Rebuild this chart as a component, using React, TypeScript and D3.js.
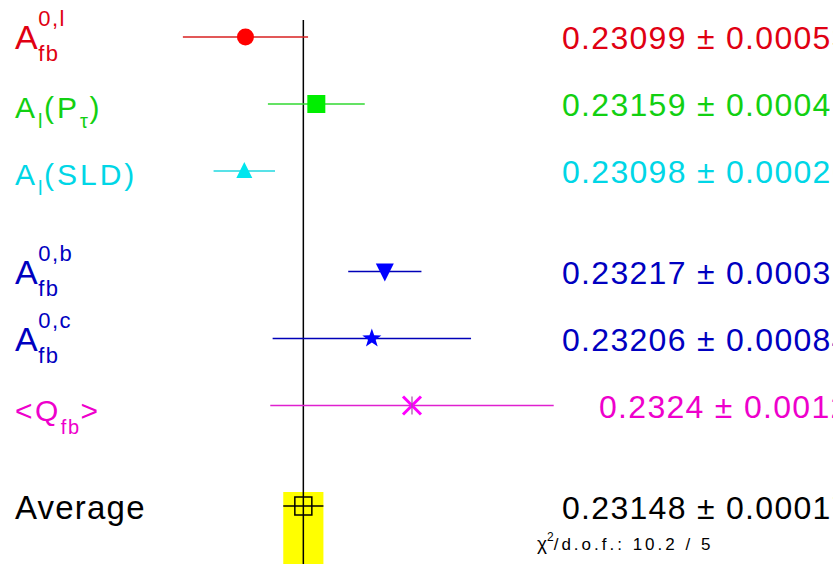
import React from 'react';
import * as d3 from 'd3';

const W = 833;
const H = 564;

type Tok = { t: string; s?: 'sub' | 'sup' };

// ---- data ----
const labels: Tok[][] = [
  [{ t: 'A' }, { t: 'fb', s: 'sub' }, { t: '0,l', s: 'sup' }],
  [{ t: 'A' }, { t: 'l', s: 'sub' }, { t: '(P' }, { t: 'τ', s: 'sub' }, { t: ')' }],
  [{ t: 'A' }, { t: 'l', s: 'sub' }, { t: '(SLD)' }],
  [{ t: 'A' }, { t: 'fb', s: 'sub' }, { t: '0,b', s: 'sup' }],
  [{ t: 'A' }, { t: 'fb', s: 'sub' }, { t: '0,c', s: 'sup' }],
  [{ t: '<Q' }, { t: 'fb', s: 'sub' }, { t: '>' }],
];
const values = [0.23099, 0.23159, 0.23098, 0.23217, 0.23206, 0.2324];
const errors = [0.00053, 0.00041, 0.00026, 0.00031, 0.00084, 0.0012];
const valueTexts = ['0.23099', '0.23159', '0.23098', '0.23217', '0.23206', '0.2324'];
const errorTexts = ['0.00053', '0.00041', '0.00026', '0.00031', '0.00084', '0.0012'];
const markerKinds = ['circle', 'square', 'triangleUp', 'triangleDown', 'star', 'asterisk'];
const rowSlots = [0, 1, 2, 3.5, 4.5, 5.5];
const avgSlot = 7;
const avgLabel = 'Average';
const avgValue = 0.23148;
const avgError = 0.00017;
const avgValueText = '0.23148';
const avgErrorText = '0.00017';
const chi2Value = '10.2 / 5';

// ---- styles ----
const markerColors = ['#ff0000', '#00ee00', '#00e6ee', '#0000ff', '#0000ff', '#ff00ff'];
const lineColors = ['#d82020', '#30d830', '#20d8e0', '#0000b8', '#0000b8', '#e020d0'];
const textColors = ['#e00012', '#12d012', '#00d6e6', '#0000c0', '#0000c0', '#ee00cc'];
const labelStyles = [
  { main: 34, small: 22, ls: 0.5, sub: 12, sup: -23, base: 12 },
  { main: 30, small: 20, ls: 3, sub: 10, sup: -20, base: 14 },
  { main: 30, small: 20, ls: 3, sub: 10, sup: -20, base: 14 },
  { main: 34, small: 22, ls: 0.5, sub: 12, sup: -23, base: 12 },
  { main: 34, small: 22, ls: 0.5, sub: 12, sup: -23, base: 12 },
  { main: 30, small: 20, ls: 2.5, sub: 13, sup: -20, base: 15 },
];
const FONT = "'Liberation Sans', Arial, Helvetica, sans-serif";

const x = d3.scaleLinear().domain([0.2305, 0.2325]).range([187.6, 423.8]);
const y = d3.scaleLinear().domain([0, avgSlot]).range([37, 506]);

function markerPath(kind: string): string {
  switch (kind) {
    case 'circle':
      return d3.symbol(d3.symbolCircle, Math.PI * 8.5 * 8.5)() as string;
    case 'square':
      return d3.symbol(d3.symbolSquare, 18 * 18)() as string;
    case 'triangleUp': {
      const p = d3.path();
      p.moveTo(0, -9); p.lineTo(8, 7); p.lineTo(-8, 7); p.closePath();
      return p.toString();
    }
    case 'triangleDown': {
      const p = d3.path();
      p.moveTo(-9, -8); p.lineTo(9, -8); p.lineTo(0, 10); p.closePath();
      return p.toString();
    }
    case 'star': {
      const p = d3.path();
      for (let k = 0; k < 10; k++) {
        const r = k % 2 === 0 ? 10 : 4;
        const a = -Math.PI / 2 + (k * Math.PI) / 5;
        if (k === 0) p.moveTo(r * Math.cos(a), r * Math.sin(a));
        else p.lineTo(r * Math.cos(a), r * Math.sin(a));
      }
      p.closePath();
      return p.toString();
    }
    default:
      return '';
  }
}

function Marker({ kind, cx, cy, color }: { kind: string; cx: number; cy: number; color: string }) {
  if (kind === 'asterisk') {
    const a = 9;
    return (
      <g transform={`translate(${cx},${cy})`} stroke={color} strokeLinecap="butt">
        <line x1={-a} y1={-a} x2={a} y2={a} strokeWidth={3} />
        <line x1={-a} y1={a} x2={a} y2={-a} strokeWidth={3} />
        <line x1={0} y1={-a} x2={0} y2={a} strokeWidth={1.2} stroke="#a050a0" />
      </g>
    );
  }
  return <path transform={`translate(${cx},${cy})`} d={markerPath(kind)} fill={color} />;
}

function RichLabel({ toks, px, py, color, st }: { toks: Tok[]; px: number; py: number; color: string; st: any }) {
  const stacked = toks.map((tk, i) => tk.s === 'sup' && i > 0 && toks[i - 1].s === 'sub');
  const flow = (list: { tk: Tok; hidden: boolean }[]) => {
    let cur = 0;
    return list.map((it, i) => {
      const target = it.tk.s === 'sub' ? st.sub : it.tk.s === 'sup' ? st.sup : 0;
      const dy = target - cur;
      cur = target;
      return (
        <tspan key={i} dy={dy} fontSize={it.tk.s ? st.small : st.main}
          fill={it.hidden ? 'none' : color} letterSpacing={it.tk.s ? 1.5 : st.ls}>
          {it.tk.t}
        </tspan>
      );
    });
  };
  const mainList = toks.filter((_, i) => !stacked[i]).map((tk) => ({ tk, hidden: false }));
  const extra: JSX.Element[] = [];
  toks.forEach((tk, i) => {
    if (stacked[i]) {
      const list = toks.slice(0, i - 1).map((t) => ({ tk: t, hidden: true }));
      list.push({ tk, hidden: false });
      extra.push(
        <text key={i} x={px} y={py} fontFamily={FONT}>{flow(list)}</text>
      );
    }
  });
  return (
    <g>
      <text x={px} y={py} fontFamily={FONT}>{flow(mainList)}</text>
      {extra}
    </g>
  );
}

export default function App() {
  const xAvg = x(avgValue);
  const yAvg = y(avgSlot);
  const numStart = 562;
  return (
    <svg width={W} height={H} style={{ position: 'absolute', left: 0, top: 0, background: '#fff' }}>
      <rect x={0} y={0} width={W} height={H} fill="#fff" />
      {/* yellow band for the average */}
      <rect x={x(avgValue - avgError)} y={yAvg - 14} width={x(avgValue + avgError) - x(avgValue - avgError)}
        height={H - (yAvg - 14)} fill="#ffff00" />
      {/* vertical reference line */}
      <line x1={xAvg} x2={xAvg} y1={20} y2={H} stroke="#000" strokeWidth={1.5} />

      {values.map((v, i) => {
        const cy = y(rowSlots[i]);
        const shortNum = valueTexts[i].length < 7;
        return (
          <g key={i}>
            <line x1={x(v - errors[i])} x2={x(v + errors[i])} y1={cy} y2={cy} stroke={lineColors[i]} strokeWidth={1.5} />
            <Marker kind={markerKinds[i]} cx={x(v)} cy={cy} color={markerColors[i]} />
            <RichLabel toks={labels[i]} px={15} py={cy + labelStyles[i].base} color={textColors[i]} st={labelStyles[i]} />
            <text x={numStart + (shortNum ? 37 : 0)} y={cy + 12} fontFamily={FONT} fontSize={32} letterSpacing={1.3}
              fill={textColors[i]}>
              {`${valueTexts[i]} ± ${errorTexts[i]}`}
            </text>
          </g>
        );
      })}

      {/* average */}
      <line x1={x(avgValue - avgError)} x2={x(avgValue + avgError)} y1={yAvg} y2={yAvg} stroke="#000" strokeWidth={1.5} />
      <rect x={xAvg - 8.5} y={yAvg - 9} width={17} height={18} fill="none" stroke="#000" strokeWidth={1.5} />
      <text x={15} y={yAvg + 13} fontFamily={FONT} fontSize={33} letterSpacing={1.2} fill="#000">{avgLabel}</text>
      <text x={numStart} y={yAvg + 13} fontFamily={FONT} fontSize={32} letterSpacing={1.3} fill="#000">
        {`${avgValueText} ± ${avgErrorText}`}
      </text>
      <text x={537} y={550} fontFamily={FONT} fill="#000">
        <tspan fontSize={19}>χ</tspan>
        <tspan fontSize={12} dy={-9}>2</tspan>
        <tspan fontSize={17} dy={9} letterSpacing={3}>{`/d.o.f.: ${chi2Value}`}</tspan>
      </text>
    </svg>
  );
}
